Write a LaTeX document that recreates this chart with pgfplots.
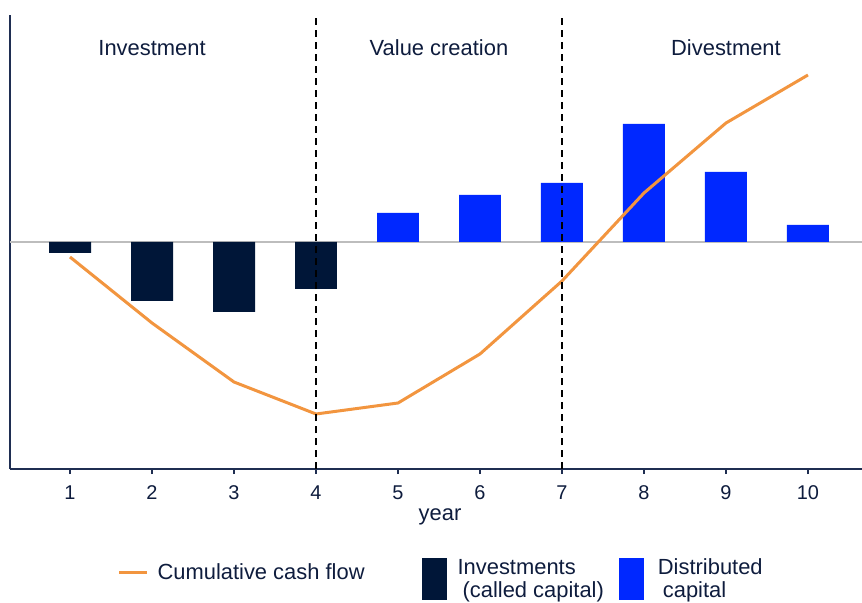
\documentclass[border=0pt]{standalone}
\usepackage{fontspec}
\setmainfont{Liberation Sans}
\usepackage{pgfplots}
\pgfplotsset{compat=1.18}
\definecolor{navy}{HTML}{0E1C3D}
\definecolor{axisnavy}{HTML}{1F2E52}
\definecolor{darkbar}{HTML}{001638}
\definecolor{bluebar}{HTML}{0028FF}
\definecolor{cfline}{HTML}{F2953F}
\definecolor{zerogray}{HTML}{BDBDBD}
\begin{document}
\begin{tikzpicture}
\path[use as bounding box] (-10bp,-134bp) rectangle (852bp,469bp);
\begin{axis}[
  at={(0,0)}, anchor=south west,
  scale only axis, width=852bp, height=454bp,
  xmin=0.268, xmax=10.659, ymin=-227, ymax=227,
  axis lines=left,
  axis line style={-, draw=axisnavy, line width=1.8bp},
  xtick={1,2,3,4,5,6,7,8,9,10}, ytick=\empty,
  tick align=outside, major tick length=5bp,
  tick style={draw=axisnavy, line width=1.2bp},
  /pgf/number format/assume math mode=true,
  xticklabel style={font=\fontsize{20}{20}\selectfont, text=navy, anchor=base, yshift=-25bp},
  xlabel={year},
  xlabel style={at={(rel axis cs:0.5047,0)}, anchor=base, yshift=-51bp, font=\fontsize{22}{22}\selectfont, text=navy},
  clip=false,
  legend style={at={(rel axis cs:0.506,-0.2423)}, anchor=center, draw=none, fill=none,
    legend columns=3, font=\fontsize{22}{23}\selectfont, text=navy,
    cells={anchor=west, align=left},
    /tikz/column 1/.style={column sep=7bp},
    /tikz/column 2/.style={column sep=55bp},
    /tikz/column 3/.style={column sep=9bp},
    /tikz/column 4/.style={column sep=13bp},
    /tikz/column 5/.style={column sep=12bp}},
]
\addlegendimage{legend image code/.code={\draw[cfline, line width=3bp] (0bp,7bp) -- (28bp,7bp);}}
\addlegendentry{\raisebox{7bp}[\height][\depth]{Cumulative cash flow}}

\draw[zerogray, line width=1.5bp] (axis cs:0.268,0) -- (axis cs:10.659,0);

\addplot[ybar, bar width=0.512, bar shift=0pt, fill=darkbar, draw=none,
  legend image code/.code={\fill[darkbar] (0bp,-21bp) rectangle (25bp,21bp);}]
  coordinates {(1,-11) (2,-59) (3,-70) (4,-47)};
\addlegendentry{Investments\\\hspace*{5bp}(called capital)}

\addplot[ybar, bar width=0.512, bar shift=0pt, fill=bluebar, draw=none,
  legend image code/.code={\fill[bluebar] (0bp,-21bp) rectangle (25bp,21bp);}]
  coordinates {(5,29) (6,47) (7,59) (8,118) (9,70) (10,17)};
\addlegendentry{Distributed\\\hspace*{5bp}capital}

\addplot[cfline, line width=3bp, forget plot]
  coordinates {(1,-15) (2,-81) (3,-140) (4,-172) (5,-161) (6,-112) (7,-39) (8,49) (9,119) (10,167)};

\draw[black, line width=1.2bp, dash pattern=on 7bp off 5bp] (axis cs:4,-227) -- (axis cs:4,227);
\draw[black, line width=1.2bp, dash pattern=on 7bp off 5bp] (axis cs:7,-227) -- (axis cs:7,227);

\node[anchor=base, text=navy, font=\fontsize{22}{22}\selectfont] at (axis cs:2,186) {Investment};
\node[anchor=base, text=navy, font=\fontsize{22}{22}\selectfont] at (axis cs:5.5,186) {Value creation};
\node[anchor=base, text=navy, font=\fontsize{22}{22}\selectfont] at (axis cs:9,186) {Divestment};
\end{axis}
\end{tikzpicture}
\end{document}
